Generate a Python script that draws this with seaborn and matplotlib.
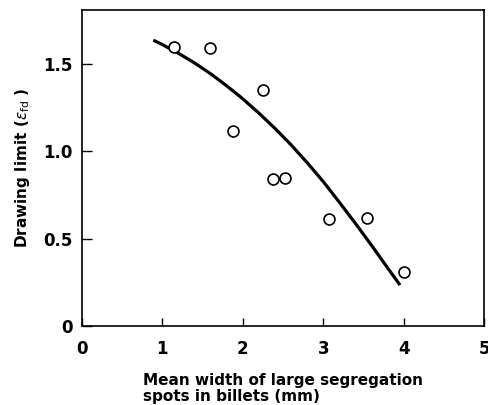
import matplotlib
matplotlib.use("Agg")
import matplotlib.pyplot as plt
import seaborn as sns
import pandas as pd

# Observed data points (open circles)
spot_width = [1.14, 1.59, 1.88, 2.25, 2.37, 2.52, 3.07, 3.54, 4.00]
drawing_limit = [1.596, 1.59, 1.116, 1.349, 0.842, 0.844, 0.61, 0.619, 0.309]

# Fitted curve
curve_x = [0.887, 1.0, 1.2, 1.4, 1.6, 1.8, 2.0, 2.2, 2.4, 2.6, 2.8,
           3.0, 3.2, 3.4, 3.6, 3.8, 3.955]
curve_y = [1.634, 1.609, 1.559, 1.504, 1.442, 1.373, 1.299, 1.217, 1.130,
           1.036, 0.934, 0.826, 0.708, 0.587, 0.462, 0.333, 0.234]

x_ticks = [0, 1, 2, 3, 4, 5]
y_ticks = [0, 0.5, 1.0, 1.5]
y_tick_labels = ["0", "0.5", "1.0", "1.5"]

sns.set_style("ticks", {"text.color": "black", "axes.labelcolor": "black",
                        "xtick.color": "black", "ytick.color": "black",
                        "axes.edgecolor": "black"})
plt.rcParams["font.family"] = ["DejaVu Sans"]
plt.rcParams["mathtext.fontset"] = "dejavusans"

pts = pd.DataFrame({"x": spot_width, "y": drawing_limit})
crv = pd.DataFrame({"x": curve_x, "y": curve_y})

fig = plt.figure(figsize=(4.89, 4.05), dpi=100)
ax = fig.add_axes([0.1677, 0.195, 0.8221, 0.780])

sns.lineplot(data=crv, x="x", y="y", ax=ax, color="black", linewidth=2.3,
             sort=False, estimator=None, solid_joinstyle="round",
             solid_capstyle="butt")
sns.scatterplot(data=pts, x="x", y="y", ax=ax, marker="o", s=62,
                facecolor="white", edgecolor="black", linewidth=1.2, zorder=3)

ax.set_xlim(0, 5)
ax.set_ylim(0, 1.806)
ax.set_xticks(x_ticks)
ax.set_xticklabels([str(t) for t in x_ticks], fontsize=12, fontweight="bold",
                   color="black")
ax.set_yticks(y_ticks)
ax.set_yticklabels(y_tick_labels, fontsize=12, fontweight="bold",
                   color="black")
ax.tick_params(axis="x", direction="in", length=6, width=1, pad=10,
               color="black")
ax.tick_params(axis="y", direction="in", length=7, width=1, pad=7,
               color="black")

for s in ax.spines.values():
    s.set_linewidth(1.2)
    s.set_color("black")

ax.set_xlabel("Mean width of large segregation\nspots in billets (mm)",
              fontsize=11, fontweight="bold", multialignment="left",
              labelpad=11, linespacing=1.1, color="black")
ax.set_ylabel(r"Drawing limit ($\varepsilon_{\mathrm{fd}}$ )",
              fontsize=11, fontweight="bold", labelpad=8, color="black")

fig.savefig("out.png", dpi=100)
